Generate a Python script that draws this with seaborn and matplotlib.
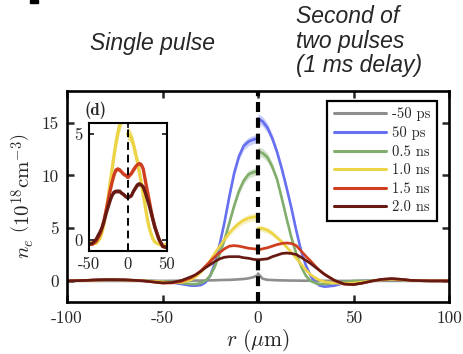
import numpy as np
import pandas as pd
import matplotlib
matplotlib.use("Agg")
import matplotlib.pyplot as plt
from matplotlib.lines import Line2D
from matplotlib.patches import Rectangle
import seaborn as sns

# ---------------- data ----------------
r_left = [-100, -95, -90, -85, -80, -75, -70, -65, -60, -55, -50, -45, -40, -35,
          -32.5, -30, -27.5, -25, -22.5, -20, -17.5, -15, -12.5, -10, -7.5, -5, -2.5, 0]
r_right = [0, 2.5, 5, 7.5, 10, 12.5, 15, 17.5, 20, 22.5, 25, 27.5, 30, 32.5, 35,
           40, 45, 50, 55, 60, 65, 70, 75, 80, 85, 90, 95, 100]

labels = ["-50 ps", "50 ps", "0.5 ns", "1.0 ns", "1.5 ns", "2.0 ns"]
colors = ["#8e8e8e", "#6670f0", "#82ae6c", "#ecd447", "#cf3f1f", "#661a12"]
rel_err = [0.0, 0.03, 0.035, 0.06, 0.03, 0.04]

# single pulse (left half, r <= 0)
gray_left = [0, 0, 0, 0, 0, 0, 0, 0, 0, 0, 0, 0.01, 0.02, 0.02, 0.03, 0.03, 0.04, 0.05,
             0.06, 0.08, 0.09, 0.1, 0.12, 0.15, 0.18, 0.24, 0.35, 0.55]
blue_left = [0, 0.02, 0.05, 0.08, 0.1, 0.1, 0.08, 0.05, 0.02, -0.02, -0.05, -0.15, -0.3,
             -0.45, -0.45, -0.4, -0.15, 0.5, 1.7, 3.5, 5.6, 8.0, 10.2, 11.8, 12.8, 13.2, 13.4, 13.5]
green_left = [0, 0.02, 0.05, 0.08, 0.1, 0.1, 0.08, 0.05, 0.02, -0.02, -0.05, -0.1, -0.2,
              -0.3, -0.3, -0.2, 0.0, 0.5, 1.4, 2.6, 3.9, 5.5, 7.1, 8.5, 9.5, 10.1, 10.3, 10.4]
yellow_left = [0, 0.02, 0.05, 0.08, 0.1, 0.1, 0.08, 0.05, 0.02, -0.05, -0.1, -0.15, -0.15,
               0.1, 0.4, 0.8, 1.3, 1.95, 2.65, 3.3, 3.95, 4.55, 5.05, 5.45, 5.75, 5.95, 6.05, 6.1]
red_left = [0, 0.02, 0.05, 0.08, 0.1, 0.1, 0.1, 0.06, 0.0, -0.1, -0.2, -0.2, -0.05,
            0.3, 0.6, 0.95, 1.4, 1.85, 2.3, 2.7, 3.05, 3.3, 3.35, 3.3, 3.2, 3.1, 3.05, 3.0]
dark_left = [0, 0.02, 0.05, 0.1, 0.12, 0.12, 0.1, 0.06, 0.0, -0.1, -0.2, -0.15, 0.05,
             0.4, 0.6, 0.9, 1.25, 1.55, 1.85, 2.1, 2.25, 2.3, 2.3, 2.3, 2.2, 2.15, 2.05, 2.0]

# second of two pulses (right half, r >= 0)
gray_right = [0.7, 0.2, 0.1, 0.08, 0.06, 0.05, 0.04, 0.03, 0.03, 0.02, 0.02, 0.02, 0.01,
              0.01, 0.01, 0, 0, 0, 0, 0, 0, 0, 0, 0, 0, 0, 0, 0]
blue_right = [15.4, 15.1, 14.5, 13.5, 12.2, 10.6, 8.8, 6.9, 4.8, 2.9, 1.5, 0.5, -0.15,
              -0.45, -0.55, -0.45, -0.2, -0.05, 0.0, 0.02, 0.1, 0.15, 0.1, 0.05, 0.02, 0, 0, 0]
green_right = [12.3, 12.1, 11.7, 10.8, 9.6, 7.8, 5.9, 4.1, 2.6, 1.4, 0.5, 0.0, -0.2,
               -0.3, -0.3, -0.2, -0.1, 0.0, 0.0, 0.02, 0.1, 0.15, 0.1, 0.05, 0.02, 0, 0, 0]
yellow_right = [5.0, 4.95, 4.8, 4.5, 4.1, 3.7, 3.2, 2.7, 2.15, 1.6, 1.05, 0.6, 0.3,
                0.05, -0.1, -0.2, -0.25, -0.2, -0.1, 0.0, 0.1, 0.15, 0.1, 0.05, 0.02, 0, 0, 0]
red_right = [2.95, 3.05, 3.15, 3.3, 3.45, 3.55, 3.6, 3.55, 3.35, 2.85, 2.35, 1.9, 1.4,
             0.95, 0.6, 0.05, -0.3, -0.35, -0.2, 0.0, 0.15, 0.2, 0.15, 0.05, 0.02, 0, 0, 0]
dark_right = [2.0, 2.05, 2.1, 2.3, 2.45, 2.6, 2.65, 2.6, 2.5, 2.25, 1.95, 1.65, 1.3,
              0.95, 0.6, 0.05, -0.3, -0.35, -0.2, 0.0, 0.15, 0.22, 0.15, 0.05, 0.02, 0, 0, 0]

left_series = [gray_left, blue_left, green_left, yellow_left, red_left, dark_left]
right_series = [gray_right, blue_right, green_right, yellow_right, red_right, dark_right]

x_ticks = [-100, -50, 0, 50, 100]
y_ticks = [0, 5, 10, 15]
inset_x_ticks = [-50, 0, 50]
inset_y_ticks = [0, 5]

rows = []
for lab, lv, rv in zip(labels, left_series, right_series):
    for r, v in zip(r_left, lv):
        rows.append((r, v, lab, "left"))
    for r, v in zip(r_right, rv):
        rows.append((r, v, lab, "right"))
df = pd.DataFrame(rows, columns=["r", "dens", "delay", "side"])

# ---------------- style ----------------
sns.set_style("ticks")
plt.rcParams["font.family"] = ["cmr10", "DejaVu Serif"]
plt.rcParams["mathtext.fontset"] = "cm"
plt.rcParams["axes.unicode_minus"] = False
plt.rcParams["axes.formatter.use_mathtext"] = True

W, H = 463, 354
fig = plt.figure(figsize=(W / 100, H / 100), dpi=100)
palette = dict(zip(labels, colors))


def fx(px):
    return px / W


def fy(py):
    return 1 - py / H


def series(frame, lab, side):
    s = frame[(frame["delay"] == lab) & (frame["side"] == side)]
    return s["r"].values, s["dens"].values


ax = fig.add_axes([fx(67), fy(302), (449 - 67) / W, (302 - 91) / H])

for lab, c, e in zip(labels, colors, rel_err):
    if e <= 0:
        continue
    for side in ("left", "right"):
        rr, vv = series(df, lab, side)
        band = e * np.abs(vv)
        ax.fill_between(rr, vv - band, vv + band, color=c, alpha=0.35, lw=0, zorder=1)

sns.lineplot(data=df, x="r", y="dens", hue="delay", hue_order=labels, units="side",
             estimator=None, sort=False, palette=palette, linewidth=1.9,
             legend=False, ax=ax, zorder=2)
ax.axvline(0, color="k", lw=3.0, dashes=(2.4, 1.4), zorder=5)

ax.set_xlim(-100, 100)
ax.set_ylim(-2, 18)
ax.set_xticks(x_ticks)
ax.set_xticklabels([str(t) for t in x_ticks])
ax.set_yticks(y_ticks)
ax.set_yticklabels([str(t) for t in y_ticks])
ax.tick_params(direction="in", length=5, width=1.8, top=True, right=True,
               labelsize=12.5, pad=6)
for s in ax.spines.values():
    s.set_linewidth(1.9)
    s.set_color("k")
ax.set_xlabel(r"$r\ (\mu\mathrm{m})$", fontsize=15.5, labelpad=1)
ax.set_ylabel(r"$n_e\ \left(10^{18}\mathrm{cm}^{-3}\right)$", fontsize=15, labelpad=3)

handles = [Line2D([0], [0], color=c, lw=2.2) for c in colors]
leg = ax.legend(handles, labels, loc="upper right", bbox_to_anchor=(0.969, 0.953),
                borderaxespad=0, fontsize=10.5, handlelength=3.6, handletextpad=0.4,
                labelspacing=0.33, borderpad=0.45, fancybox=False, framealpha=1,
                edgecolor="k")
leg.get_frame().set_linewidth(1.6)

ax.text(fx(95), fy(110), "(d)", transform=fig.transFigure, fontsize=12,
        family="cmb10", ha="center", va="center")

# ---------------- inset ----------------
axi = fig.add_axes([fx(88.5), fy(250.7), (166.7 - 88.5) / W, (250.7 - 123.3) / H])
inset_labels = labels[3:]
sub = df[df["delay"].isin(inset_labels)]
for lab, c, e in zip(labels, colors, rel_err):
    if lab not in inset_labels:
        continue
    for side in ("left", "right"):
        rr, vv = series(sub, lab, side)
        band = e * np.abs(vv)
        axi.fill_between(rr, vv - band, vv + band, color=c, alpha=0.6, lw=0, zorder=1)
sns.lineplot(data=sub, x="r", y="dens", hue="delay", hue_order=inset_labels, units="side",
             estimator=None, sort=False, palette=palette, linewidth=2.4,
             legend=False, ax=axi, zorder=2)
axi.axvline(0, color="k", lw=1.4, dashes=(4, 2.5), zorder=5)
axi.set_xlim(-50, 50)
axi.set_ylim(-0.5, 5.5)
axi.set_xticks(inset_x_ticks)
axi.set_xticklabels([str(t) for t in inset_x_ticks])
axi.set_yticks(inset_y_ticks)
axi.set_yticklabels([str(t) for t in inset_y_ticks])
axi.set_xlabel("")
axi.set_ylabel("")
axi.tick_params(direction="in", length=3.5, width=1.3, top=True, right=True,
                labelsize=12, pad=4)
for s in axi.spines.values():
    s.set_linewidth(1.5)
    s.set_color("k")

# ---------------- header texts ----------------
fig.text(fx(152), fy(50), "Single pulse", fontsize=16.5, style="italic",
         family="Liberation Sans", ha="center", va="baseline")
fig.text(fx(296), fy(5), "Second of\ntwo pulses\n(1 ms delay)", fontsize=16.5,
         style="italic", family="Liberation Sans", ha="left", va="top", linespacing=1.09)
fig.patches.append(Rectangle((fx(30), fy(3)), 8 / W, 3 / H, transform=fig.transFigure,
                             color="k", figure=fig))

fig.savefig("out.png", dpi=100)
